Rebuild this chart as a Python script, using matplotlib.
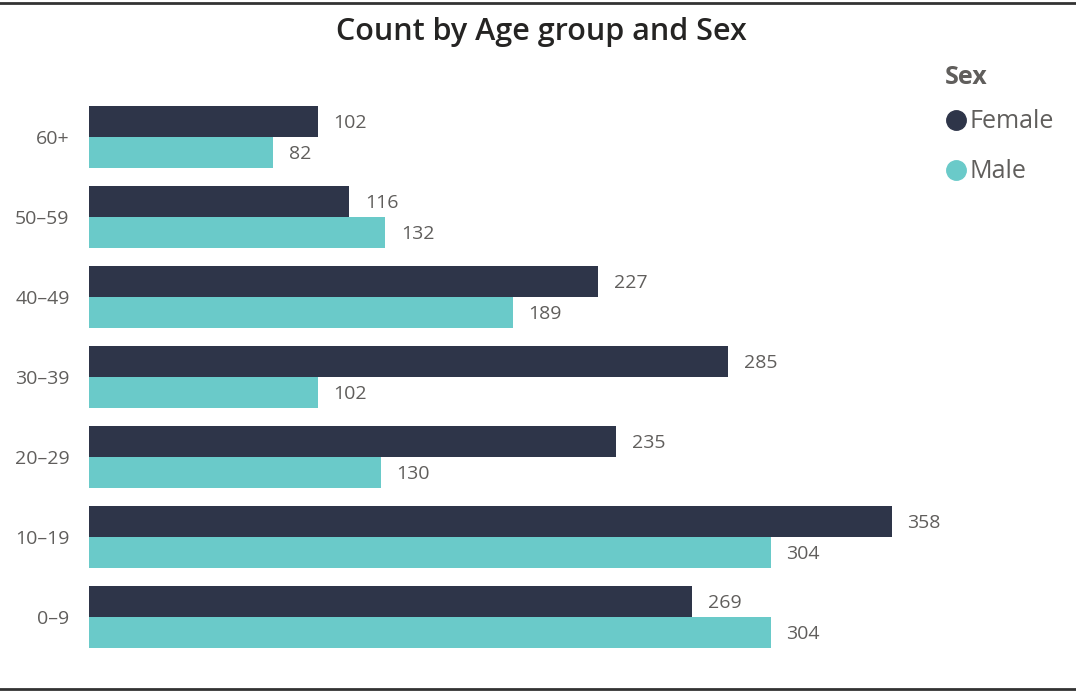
import matplotlib.pyplot as plt
import numpy as np
from matplotlib.lines import Line2D

plt.rcParams["font.family"] = ["Open Sans", "DejaVu Sans"]

age_groups = ["0–9", "10–19", "20–29", "30–39", "40–49", "50–59", "60+"]
female = [269, 358, 235, 285, 227, 116, 102]
male = [304, 304, 130, 102, 189, 132, 82]

FEMALE_COLOR = "#2E3549"
MALE_COLOR = "#6ACAC9"
TEXT_GREY = "#605E5C"

fig = plt.figure(figsize=(10.76, 6.92), dpi=100)
ax = fig.add_axes([0.0827, 0.0506, 0.8337, 0.8092])

y = np.arange(len(age_groups))
h = 0.3875
ax.barh(y + h / 2, female, height=h, color=FEMALE_COLOR, label="Female")
ax.barh(y - h / 2, male, height=h, color=MALE_COLOR, label="Male")

# value labels, nudged a touch below bar centre like the original
for yi, v in zip(y, female):
    ax.text(v + 7, yi + h / 2 - 0.02, str(v), va="center", ha="left", fontsize=14, color=TEXT_GREY)
for yi, v in zip(y, male):
    ax.text(v + 7, yi - h / 2 - 0.02, str(v), va="center", ha="left", fontsize=14, color=TEXT_GREY)

ax.set_xlim(0, 400)
ax.set_ylim(-0.5, 6.5)
ax.set_yticks(y)
ax.set_yticklabels(age_groups, fontsize=14, color=TEXT_GREY)
ax.set_xticks([])
ax.tick_params(axis="y", length=0, pad=14)
for s in ax.spines.values():
    s.set_visible(False)

fig.text(0.503, 0.954, "Count by Age group and Sex", ha="center", va="center",
         fontsize=22, color="#252423", fontweight="semibold")

# legend
fig.text(945 / 1076, 1 - 78 / 692, "Sex", ha="left", va="center", fontsize=18,
         fontweight="bold", color=TEXT_GREY)
for label, color, ypx in [("Female", FEMALE_COLOR, 120), ("Male", MALE_COLOR, 170)]:
    fig.add_artist(Line2D([956 / 1076], [1 - ypx / 692], marker="o", markersize=14,
                          color=color, linestyle="none", transform=fig.transFigure))
    fig.text(969 / 1076, 1 - (ypx + 1) / 692, label, ha="left", va="center", fontsize=18,
             color=TEXT_GREY)

# frame lines top and bottom
for ypx in (3, 689):
    fig.add_artist(Line2D([0, 1], [1 - ypx / 692] * 2, color="#333333", linewidth=2,
                          transform=fig.transFigure))

fig.savefig("out.png", dpi=100)
